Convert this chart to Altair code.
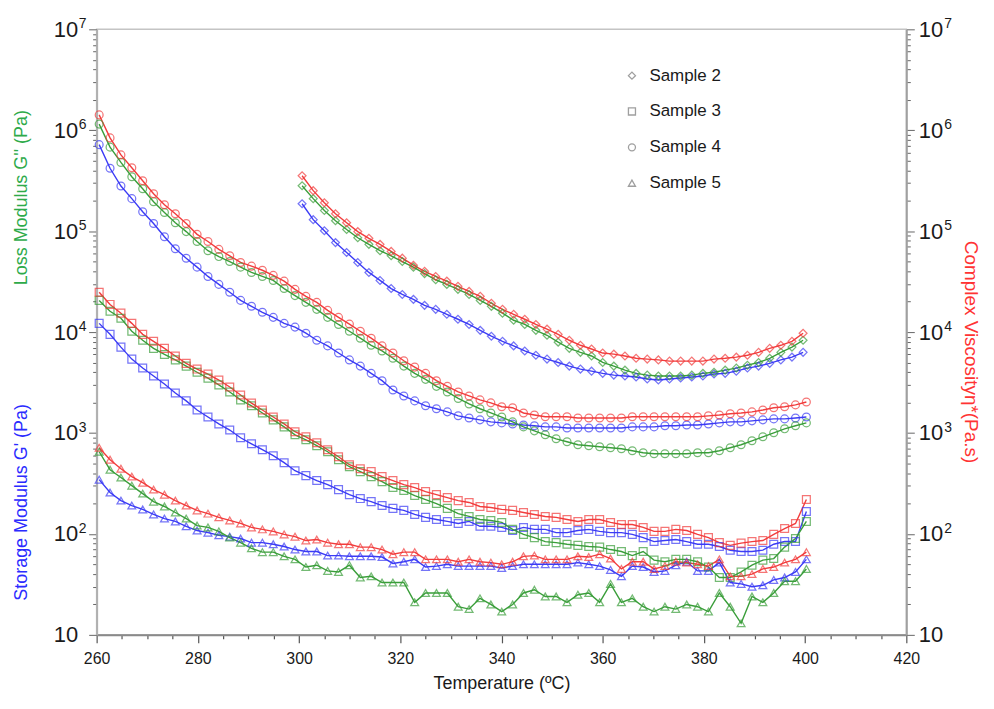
import altair as alt
import pandas as pd

FONT = "Liberation Sans"
BLUE = "#3b3bf5"
GREEN = "#3a9e3a"
RED = "#f23c3c"

# temperature sampling (deg C)
TEMPS = [round(260.5 + 2.15 * i, 2) for i in range(66)]
TEMPS_S2 = [round(300.6 + 2.2 * j, 2) for j in range(46)]

SAMPLES = ["Sample 2", "Sample 3", "Sample 4", "Sample 5"]
SHAPES = ["diamond", "square", "circle", "triangle-up"]
QUANTITIES = ["G'", "G''", "eta*"]

# ---- Sample 2 (starts at ~300 C) ----
s2_gp = [1.87e5, 1.3e5, 1.01e5, 7.7e4, 6.15e4, 4.9e4, 3.9e4, 3.25e4, 2.7e4, 2.36e4,
         2.11e4, 1.84e4, 1.68e4, 1.5e4, 1.34e4, 1.19e4, 1.04e4, 9.1e3, 8.1e3, 7.3e3,
         6.5e3, 5.9e3, 5.4e3, 5.0e3, 4.6e3, 4.3e3, 4.1e3, 3.9e3, 3.75e3, 3.67e3,
         3.59e3, 3.43e3, 3.35e3, 3.43e3, 3.51e3, 3.59e3, 3.67e3, 3.84e3, 3.9e3, 4.1e3,
         4.4e3, 4.6e3, 4.9e3, 5.3e3, 5.65e3, 6.3e3]
s2_gpp = [2.82e5, 2.1e5, 1.6e5, 1.27e5, 1.04e5, 8.6e4, 7.4e4, 6.4e4, 5.7e4, 5.0e4,
          4.4e4, 3.8e4, 3.3e4, 2.97e4, 2.65e4, 2.36e4, 2.06e4, 1.8e4, 1.54e4, 1.31e4,
          1.19e4, 1.04e4, 9.3e3, 7.95e3, 6.9e3, 6.3e3, 5.8e3, 5.0e3, 4.6e3, 4.2e3,
          3.9e3, 3.75e3, 3.67e3, 3.67e3, 3.67e3, 3.75e3, 3.9e3, 4.0e3, 4.2e3, 4.4e3,
          4.7e3, 5.0e3, 5.5e3, 6.3e3, 7.1e3, 8.3e3]
s2_eta = [3.54e5, 2.52e5, 1.91e5, 1.49e5, 1.21e5, 9.9e4, 8.5e4, 7.4e4, 6.3e4, 5.4e4,
          4.6e4, 4.0e4, 3.56e4, 3.2e4, 2.84e4, 2.53e4, 2.26e4, 1.93e4, 1.68e4, 1.5e4,
          1.34e4, 1.19e4, 1.07e4, 9.5e3, 8.3e3, 7.4e3, 6.8e3, 6.2e3, 6.05e3, 5.8e3,
          5.5e3, 5.4e3, 5.3e3, 5.16e3, 5.16e3, 5.16e3, 5.16e3, 5.4e3, 5.5e3, 5.65e3,
          5.9e3, 6.3e3, 6.9e3, 7.4e3, 8.1e3, 9.75e3]

# ---- Sample 3 ----
s3_gp = [1.22e4, 9.5e3, 7.1e3, 5.4e3, 4.4e3, 3.67e3, 3.06e3, 2.49e3, 2.08e3, 1.69e3,
         1.44e3, 1.23e3, 1.07e3, 897, 782, 683, 596, 508, 423, 378,
         338, 308, 275, 245, 224, 209, 191, 179, 171, 156,
         146, 139, 133, 127, 133, 119, 119, 116, 108, 116,
         111, 111, 103, 103, 108, 111, 106, 103, 103, 99,
         92, 84, 86, 88, 84, 79, 79, 75, 69, 67,
         67, 69, 79, 84, 84, 167]
s3_gpp = [2.06e4, 1.61e4, 1.37e4, 1.02e4, 8.3e3, 6.9e3, 6.0e3, 5.3e3, 4.6e3, 4.0e3,
          3.5e3, 3.0e3, 2.55e3, 2.13e3, 1.86e3, 1.58e3, 1.35e3, 1.15e3, 960, 857,
          748, 652, 544, 463, 414, 370, 330, 288, 269, 240,
          219, 200, 179, 159, 149, 139, 136, 130, 111, 99,
          92, 84, 82, 79, 77, 75, 74, 70, 67, 61,
          67, 55, 53, 56, 56, 53, 47, 37, 37, 42,
          49, 55, 57, 74, 90, 133]
s3_eta = [2.48e4, 1.88e4, 1.54e4, 1.22e4, 9.5e3, 8.1e3, 6.9e3, 5.8e3, 4.9e3, 4.3e3,
          3.84e3, 3.35e3, 2.86e3, 2.38e3, 1.98e3, 1.69e3, 1.44e3, 1.23e3, 1.03e3, 917,
          800, 683, 582, 485, 443, 414, 370, 338, 308, 288,
          263, 245, 229, 214, 205, 187, 183, 175, 171, 163,
          156, 149, 146, 139, 133, 139, 139, 130, 124, 124,
          116, 106, 106, 111, 108, 99, 92, 82, 77, 81,
          84, 86, 99, 113, 127, 219]

# ---- Sample 4 ----
s4_gp = [7.2e5, 4.2e5, 2.8e5, 2.1e5, 1.56e5, 1.19e5, 8.8e4, 6.7e4, 5.4e4, 4.4e4,
         3.56e4, 2.97e4, 2.48e4, 2.06e4, 1.8e4, 1.57e4, 1.4e4, 1.22e4, 1.12e4, 9.75e3,
         8.3e3, 7.3e3, 6.2e3, 5.3e3, 4.6e3, 3.9e3, 3.3e3, 2.67e3, 2.33e3, 2.08e3,
         1.86e3, 1.74e3, 1.62e3, 1.48e3, 1.41e3, 1.35e3, 1.29e3, 1.26e3, 1.23e3, 1.2e3,
         1.18e3, 1.15e3, 1.15e3, 1.12e3, 1.12e3, 1.12e3, 1.12e3, 1.12e3, 1.12e3, 1.15e3,
         1.15e3, 1.15e3, 1.18e3, 1.18e3, 1.2e3, 1.2e3, 1.23e3, 1.26e3, 1.29e3, 1.29e3,
         1.32e3, 1.35e3, 1.38e3, 1.38e3, 1.41e3, 1.44e3]
s4_gpp = [1.15e6, 6.8e5, 4.8e5, 3.46e5, 2.63e5, 1.96e5, 1.53e5, 1.21e5, 9.9e4, 7.9e4,
          6.4e4, 5.6e4, 5.0e4, 4.4e4, 3.9e4, 3.56e4, 3.25e4, 2.7e4, 2.3e4, 1.97e4,
          1.68e4, 1.4e4, 1.19e4, 1.02e4, 8.7e3, 7.4e3, 6.5e3, 5.5e3, 4.6e3, 3.9e3,
          3.4e3, 2.9e3, 2.55e3, 2.2e3, 1.94e3, 1.74e3, 1.58e3, 1.44e3, 1.29e3, 1.15e3,
          1.05e3, 960, 876, 820, 765, 748, 730, 714, 698, 667,
          637, 623, 623, 623, 623, 637, 637, 667, 714, 765,
          837, 917, 1005, 1100, 1180, 1260]
s4_eta = [1.42e6, 8.4e5, 5.7e5, 4.25e5, 3.16e5, 2.35e5, 1.83e5, 1.49e5, 1.19e5, 9.3e4,
          7.9e4, 6.6e4, 5.7e4, 4.9e4, 4.5e4, 4.1e4, 3.65e4, 3.2e4, 2.65e4, 2.26e4,
          1.97e4, 1.64e4, 1.4e4, 1.2e4, 1.02e4, 8.7e3, 7.3e3, 6.2e3, 5.2e3, 4.5e3,
          3.9e3, 3.3e3, 2.9e3, 2.55e3, 2.33e3, 2.13e3, 1.99e3, 1.82e3, 1.78e3, 1.58e3,
          1.51e3, 1.45e3, 1.45e3, 1.45e3, 1.41e3, 1.41e3, 1.41e3, 1.41e3, 1.41e3, 1.45e3,
          1.45e3, 1.45e3, 1.45e3, 1.45e3, 1.45e3, 1.45e3, 1.48e3, 1.51e3, 1.55e3, 1.58e3,
          1.62e3, 1.69e3, 1.78e3, 1.82e3, 1.9e3, 2.03e3]

# ---- Sample 5 ----
s5_gp = [345, 257, 214, 191, 175, 156, 142, 133, 119, 108,
         103, 97, 94, 90, 82, 82, 79, 75, 70, 67,
         67, 61, 61, 60, 60, 60, 59, 51, 53, 56,
         47, 48, 50, 48, 48, 48, 48, 46, 48, 50,
         50, 50, 50, 50, 52, 50, 48, 44, 38, 48,
         47, 42, 43, 49, 53, 43, 43, 52, 33, 32,
         30, 31, 35, 37, 42, 56]
s5_gpp = [652, 433, 362, 301, 251, 209, 187, 163, 142, 121,
          116, 106, 92, 82, 72, 66, 66, 60, 56, 47,
          49, 43, 42, 49, 37, 38, 33, 33, 33, 21,
          26, 26, 26, 19, 18, 23, 20, 17, 20, 26,
          28, 24, 24, 21, 25, 26, 21, 32, 21, 23,
          19, 17, 19, 18, 20, 19, 17, 26, 19, 13,
          24, 21, 26, 34, 34, 45]
s5_eta = [714, 544, 443, 370, 322, 275, 245, 214, 191, 171,
          159, 146, 136, 127, 116, 111, 106, 99, 94, 86,
          88, 82, 79, 79, 74, 74, 70, 63, 66, 66,
          56, 56, 56, 53, 56, 53, 52, 50, 53, 60,
          61, 56, 56, 56, 60, 59, 63, 57, 45, 53,
          53, 45, 48, 53, 52, 50, 48, 56, 38, 38,
          40, 45, 47, 52, 56, 66]

# decade labels
DECADES = [100, 1000, 10000, 100000, 1000000, 10000000]
EXPONENTS = ["2", "3", "4", "5", "6", "7"]

rows = []


def add(sample, qty, temps, vals):
    for t, v in zip(temps, vals):
        rows.append({"T": t, "v": v, "sample": sample, "qty": qty})


add("Sample 2", "G'", TEMPS_S2, s2_gp)
add("Sample 2", "G''", TEMPS_S2, s2_gpp)
add("Sample 2", "eta*", TEMPS_S2, s2_eta)
add("Sample 3", "G'", TEMPS, s3_gp)
add("Sample 3", "G''", TEMPS, s3_gpp)
add("Sample 3", "eta*", TEMPS, s3_eta)
add("Sample 4", "G'", TEMPS, s4_gp)
add("Sample 4", "G''", TEMPS, s4_gpp)
add("Sample 4", "eta*", TEMPS, s4_eta)
add("Sample 5", "G'", TEMPS, s5_gp)
add("Sample 5", "G''", TEMPS, s5_gpp)
add("Sample 5", "eta*", TEMPS, s5_eta)
df = pd.DataFrame(rows)
exp_df = pd.DataFrame({"d": DECADES, "e": EXPONENTS})

W, H = 813, 608

xscale = alt.Scale(domain=[260, 420], nice=False, zero=False)
yscale = alt.Scale(type="log", domain=[10, 1e7], nice=False)
cscale = alt.Scale(domain=QUANTITIES, range=[BLUE, GREEN, RED])

is_major = "abs(log(datum.value)/LN10 - round(log(datum.value)/LN10)) < 0.001"
Y_TICKS = [m * 10 ** k for k in range(1, 7) for m in range(1, 10)] + [10 ** 7]

x_axis = alt.Axis(
    values=list(range(260, 421, 5)),
    labelExpr="datum.value % 20 == 0 ? datum.label : ''",
    tickSize={"condition": {"test": "datum.value % 20 == 0", "value": 8}, "value": 4},
    title="Temperature (ºC)", titleFontSize=18, titleFontWeight="normal",
    titlePadding=8, labelFontSize=16, labelPadding=8, labelFlush=False,
    labelOverlap=False, domainColor="#8a8a8a", domainWidth=2, tickColor="#555555",
    tickWidth=1.2, grid=False,
)
left_axis = alt.Axis(
    orient="left", values=Y_TICKS,
    labelExpr=f"{is_major} ? '10' : ''",
    tickSize={"condition": {"test": is_major, "value": 8}, "value": 4},
    labelFontSize=22, labelPadding=11, labelOverlap=False, labelFlush=False,
    title=None, domainColor="#b0b0b0", domainWidth=2, tickColor="#666666",
    grid=False,
)
right_axis = alt.Axis(
    orient="right", values=Y_TICKS,
    labelExpr=f"{is_major} ? '10' : ''",
    tickSize={"condition": {"test": is_major, "value": 8}, "value": 4},
    labelFontSize=22, labelPadding=4, labelOverlap=False, labelFlush=False,
    title=None, domainColor="#a0a0a0", domainWidth=2, tickColor="#666666",
    grid=False,
)

lines = alt.Chart(df).mark_line(strokeWidth=1.4).encode(
    x=alt.X("T:Q", scale=xscale, axis=x_axis),
    y=alt.Y("v:Q", scale=yscale, axis=left_axis),
    color=alt.Color("qty:N", scale=cscale, legend=None),
    detail="sample:N",
    order="T:Q",
)

points = alt.Chart(df).mark_point(filled=False, size=62, strokeWidth=1.25, opacity=0.7).encode(
    x=alt.X("T:Q", scale=xscale, axis=x_axis),
    y=alt.Y("v:Q", scale=yscale, axis=None),
    color=alt.Color("qty:N", scale=cscale, legend=None),
    shape=alt.Shape(
        "sample:N",
        scale=alt.Scale(domain=SAMPLES, range=SHAPES),
        legend=alt.Legend(
            title=None, orient="none", legendX=529, legendY=38, direction="vertical",
            labelFontSize=17, labelFont=FONT, labelColor="#1a1a1a",
            symbolSize=50, symbolStrokeWidth=1.3, symbolStrokeColor="#777777",
            symbolFillColor="transparent", rowPadding=18, labelOffset=9,
        ),
    ),
)

right = alt.Chart(exp_df).mark_tick(opacity=0).encode(
    y=alt.Y("d:Q", scale=yscale, axis=right_axis),
)

exp_left = alt.Chart(exp_df).mark_text(
    align="left", baseline="alphabetic", fontSize=14, font=FONT, color="#1a1a1a", dy=-1
).encode(x=alt.value(-18), y=alt.Y("d:Q", scale=yscale, axis=None), text="e:N")

exp_right = alt.Chart(exp_df).mark_text(
    align="left", baseline="alphabetic", fontSize=14, font=FONT, color="#1a1a1a", dy=-1
).encode(x=alt.value(W + 38), y=alt.Y("d:Q", scale=yscale, axis=None), text="e:N")

t_blue = alt.Chart(pd.DataFrame({"t": ["Storage Modulus G' (Pa)"]})).mark_text(
    angle=270, fontSize=18, font=FONT, color="#2b2bff", baseline="middle", align="center"
).encode(x=alt.value(-75), y=alt.value(475), text="t:N")

t_green = alt.Chart(pd.DataFrame({"t": ["Loss Modulus G'' (Pa)"]})).mark_text(
    angle=270, fontSize=18, font=FONT, color="#2eaa4a", baseline="middle", align="center"
).encode(x=alt.value(-75), y=alt.value(169), text="t:N")

t_red = alt.Chart(pd.DataFrame({"t": ["Complex Viscosityη*(Pa.s)"]})).mark_text(
    angle=90, fontSize=19, font=FONT, color="#ff3333", baseline="middle", align="center"
).encode(x=alt.value(878), y=alt.value(324), text="t:N")

chart = (
    alt.layer(lines, points, right, exp_left, exp_right, t_blue, t_green, t_red)
    .resolve_scale(y="shared")
    .resolve_axis(y="independent")
    .properties(
        width=W, height=H,
        autosize=alt.AutoSizeParams(type="none"),
        padding={"left": 89, "top": 20, "right": 80, "bottom": 63},
    )
    .configure_view(stroke="#c4c4c4", strokeWidth=1.5)
    .configure_axis(labelFont=FONT, titleFont=FONT, labelColor="#1a1a1a", titleColor="#1a1a1a")
)

chart.save("out.html", embed_options={"renderer": "svg", "actions": False})
